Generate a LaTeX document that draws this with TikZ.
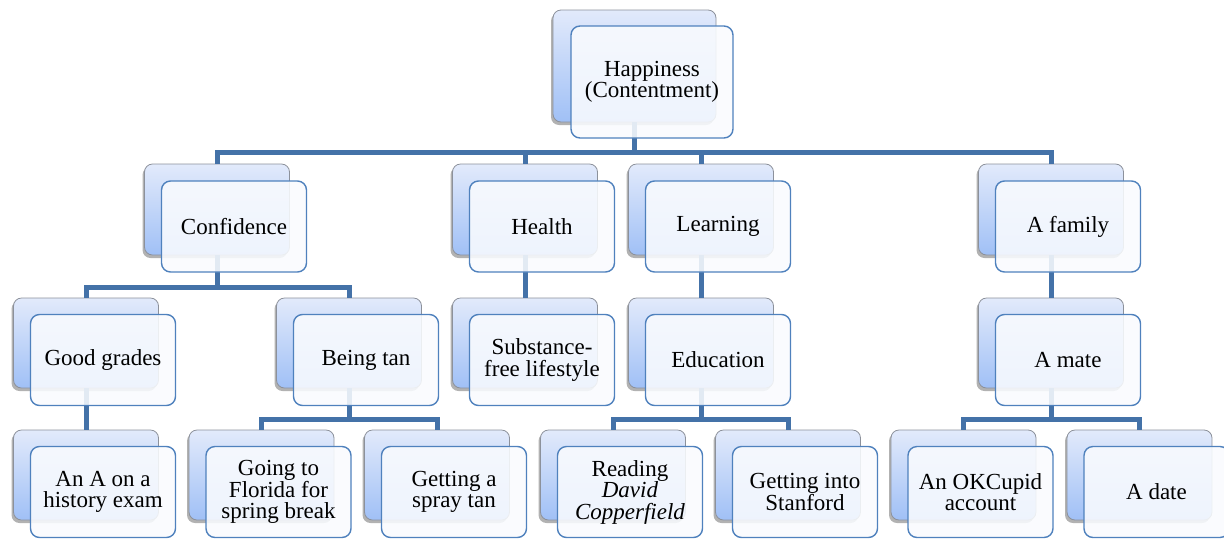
\documentclass[tikz,border=0pt]{standalone}
\usepackage{fontspec}
\setmainfont{Liberation Serif}
\usetikzlibrary{shadows}
\definecolor{linkblue}{RGB}{68,114,168}
\definecolor{frameblue}{RGB}{79,129,189}
\definecolor{backtop}{RGB}{226,234,251}
\definecolor{backbot}{RGB}{160,192,246}
\definecolor{backedge}{RGB}{140,145,155}
\definecolor{frontfill}{RGB}{249,251,254}
\begin{document}
\begin{tikzpicture}[x=1pt,y=-1pt,
  back/.style={rounded corners=8pt, draw=backedge, line width=0.8pt,
    top color=backtop, bottom color=backbot,
    minimum width=145pt, minimum height=90pt, inner sep=0pt, outer sep=0pt,
    drop shadow={shadow xshift=-2pt, shadow yshift=-3pt, fill=black, opacity=0.3}},
  front/.style={rounded corners=9pt, draw=frameblue, line width=1.4pt,
    fill=frontfill, fill opacity=0.88, text opacity=1,
    minimum width=145pt, minimum height=91pt, inner sep=2pt, outer sep=0pt,
    align=center, font=\fontsize{23}{21.5}\selectfont},
  conn/.style={draw=linkblue, line width=5pt, line join=miter}]
\useasboundingbox (0,0) rectangle (1224,539);

% bus rows
\coordinate (bus1) at (0,152);
\coordinate (bus2) at (0,287);
\coordinate (bus3) at (0,419);

% back cards
\node[back, minimum width=163pt, minimum height=112pt] (hapB) at (634.5,66) {};
\node[back, minimum height=91pt] (confB) at (217,209.5) {};
\node[back, minimum height=91pt] (healB) at (525,209.5) {};
\node[back, minimum height=91pt] (learB) at (701,209.5) {};
\node[back, minimum height=91pt] (famB) at (1051,209.5) {};
\node[back] (gradB) at (86,343) {};
\node[back] (tanB) at (349,343) {};
\node[back] (subB) at (525,343) {};
\node[back] (eduB) at (701,343) {};
\node[back] (mateB) at (1051,343) {};
\node[back] (examB) at (86,475) {};
\node[back] (florB) at (261.5,475) {};
\node[back] (sprayB) at (437,475) {};
\node[back] (readB) at (613,475) {};
\node[back] (stanB) at (788,475) {};
\node[back] (okB) at (963.5,475) {};
\node[back] (dateB) at (1139.5,475) {};

% connectors
\draw[conn] (hapB.south) -- (hapB.south |- bus1) -| (confB.north);
\draw[conn] (hapB.south) -- (hapB.south |- bus1) -| (healB.north);
\draw[conn] (hapB.south) -- (hapB.south |- bus1) -| (learB.north);
\draw[conn] (hapB.south) -- (hapB.south |- bus1) -| (famB.north);
\draw[conn] (confB.south) -- (confB.south |- bus2) -| (gradB.north);
\draw[conn] (confB.south) -- (confB.south |- bus2) -| (tanB.north);
\draw[conn] (healB.south) -- (subB.north);
\draw[conn] (learB.south) -- (eduB.north);
\draw[conn] (famB.south) -- (mateB.north);
\draw[conn] (gradB.south) -- (examB.north);
\draw[conn] (tanB.south) -- (tanB.south |- bus3) -| (florB.north);
\draw[conn] (tanB.south) -- (tanB.south |- bus3) -| (sprayB.north);
\draw[conn] (eduB.south) -- (eduB.south |- bus3) -| (readB.north);
\draw[conn] (eduB.south) -- (eduB.south |- bus3) -| (stanB.north);
\draw[conn] (mateB.south) -- (mateB.south |- bus3) -| (okB.north);
\draw[conn] (mateB.south) -- (mateB.south |- bus3) -| (dateB.north);

% front cards with the labels
\node[front, minimum width=162pt, minimum height=112pt] (hap) at ([shift={(17.5,16)}]hapB.center) {Happiness\\(Contentment)};
\node[front] (conf) at ([shift={(17,17)}]confB.center) {Confidence};
\node[front] (heal) at ([shift={(17,17)}]healB.center) {Health};
\node[front] (lear) at ([shift={(17,17)}]learB.center) {Learning};
\node[front] (fam) at ([shift={(17,17)}]famB.center) {A family};
\node[front] (grad) at ([shift={(17,17)}]gradB.center) {Good grades};
\node[front] (tan) at ([shift={(17,17)}]tanB.center) {Being tan};
\node[front] (sub) at ([shift={(17,17)}]subB.center) {Substance-\\free lifestyle};
\node[front] (edu) at ([shift={(17,17)}]eduB.center) {Education};
\node[front] (mate) at ([shift={(17,17)}]mateB.center) {A mate};
\node[front] (exam) at ([shift={(17,17)}]examB.center) {An A on a\\history exam};
\node[front] (flor) at ([shift={(17,17)}]florB.center) {Going to\\Florida for\\spring break};
\node[front] (spray) at ([shift={(17,17)}]sprayB.center) {Getting a\\spray tan};
\node[front] (read) at ([shift={(17,17)}]readB.center) {Reading\\\textit{David}\\\textit{Copperfield}};
\node[front] (stan) at ([shift={(17,17)}]stanB.center) {Getting into\\Stanford};
\node[front] (ok) at ([shift={(17,17)}]okB.center) {An OKCupid\\account};
\node[front] (date) at ([shift={(17,17)}]dateB.center) {A date};
\end{tikzpicture}
\end{document}
